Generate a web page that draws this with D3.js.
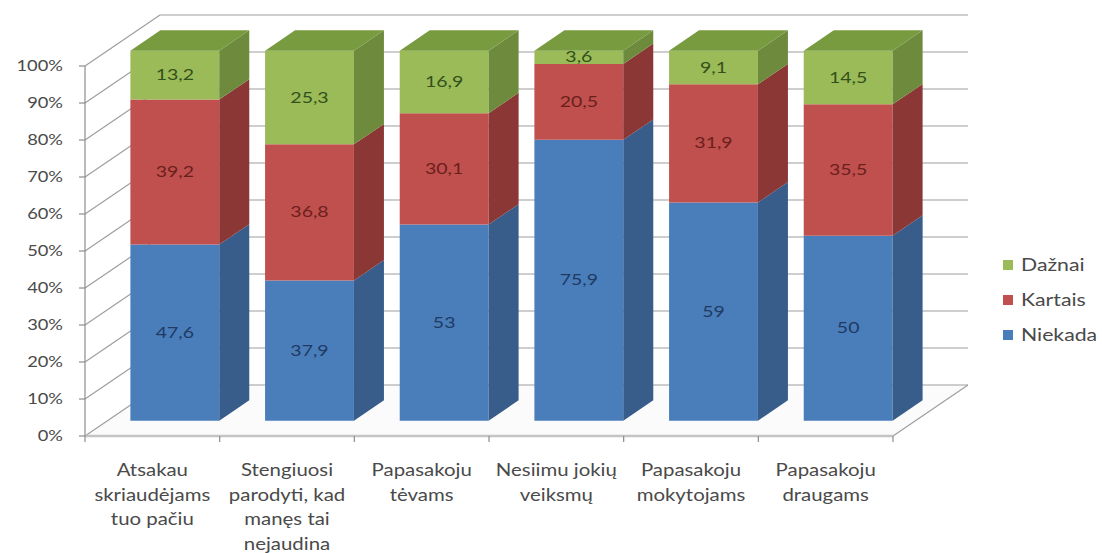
<!DOCTYPE html>
<html>
<head>
<meta charset="utf-8">
<script src="https://cdn.jsdelivr.net/npm/d3@7"></script>
<style>
  body { margin: 0; background: #fff; }
  svg text { font-family: Lato, 'Open Sans', sans-serif; }
</style>
</head>
<body>
<div class="chart"></div>
<script>
const categories = [
  ['Atsakau', 'skriaudėjams', 'tuo pačiu'],
  ['Stengiuosi', 'parodyti, kad', 'manęs tai', 'nejaudina'],
  ['Papasakoju', 'tėvams'],
  ['Nesiimu jokių', 'veiksmų'],
  ['Papasakoju', 'mokytojams'],
  ['Papasakoju', 'draugams']
]
const seriesNames = ['Niekada', 'Kartais', 'Dažnai']
const niekada = [47.6, 37.9, 53, 75.9, 59, 50]
const kartais = [39.2, 36.8, 30.1, 20.5, 31.9, 35.5]
const daznai = [13.2, 25.3, 16.9, 3.6, 9.1, 14.5]
const yTicks = [0, 10, 20, 30, 40, 50, 60, 70, 80, 90, 100]

const width = 1102
const height = 553
const depthX = 75
const depthY = -51
const barNear = 0.3
const barFar = 0.7

const colors = {
  Niekada: { front: '#4a7ebb', side: '#385d8a', top: '#5b8fc9', label: '#1f3a63' },
  Kartais: { front: '#c0504d', side: '#8a3735', top: '#d0605c', label: '#6b1f1d' },
  Dažnai: { front: '#9bbb59', side: '#6e8b3d', top: '#789b40', label: '#33511a' }
}

const values = { Niekada: niekada, Kartais: kartais, Dažnai: daznai }
const idx = d3.range(categories.length)

const x = d3.scaleBand().domain(idx).range([85, 893]).paddingInner(0.34).paddingOuter(0.17)
const y = d3.scaleLinear().domain([0, 100]).range([436, 66])

// project a point of the front plane back into the depth
const px = (xv, d) => xv + d * depthX
const py = (yv, d) => yv + d * depthY

const svg = d3.select('.chart').append('svg')
  .attr('width', width).attr('height', height)

const grid = svg.append('g')
  .attr('stroke', '#9e9e9e').attr('stroke-width', 1.2).attr('fill', 'none')

// floor
svg.insert('path', 'g')
  .attr('d', d3.line()([[px(85, 0), y(0)], [px(893, 0), y(0)], [px(893, 1), py(y(0), 1)], [px(85, 1), py(y(0), 1)]]))
  .attr('fill', '#fbfbfb')

// left wall + back wall gridlines
yTicks.forEach((t) => {
  grid.append('line')
    .attr('x1', 85).attr('y1', y(t)).attr('x2', px(85, 1)).attr('y2', py(y(t), 1))
  grid.append('line')
    .attr('x1', px(85, 1)).attr('y1', py(y(t), 1)).attr('x2', px(893, 1)).attr('y2', py(y(t), 1))
})
grid.append('line')
  .attr('x1', 893).attr('y1', y(0)).attr('x2', px(893, 1)).attr('y2', py(y(0), 1))
grid.append('line')
  .attr('x1', 85).attr('y1', y(0)).attr('x2', 893).attr('y2', y(0))
  .attr('stroke', '#c4c4c4').attr('stroke-width', 2.5)

// front y axis
const axis = svg.append('g').attr('stroke', '#8c8c8c').attr('stroke-width', 1.2)
axis.append('line').attr('x1', 85).attr('x2', 85).attr('y1', y(0)).attr('y2', y(100))
yTicks.forEach((t) => {
  axis.append('line').attr('x1', 79).attr('x2', 85).attr('y1', y(t)).attr('y2', y(t))
})
d3.range(categories.length + 1).forEach((i) => {
  const xv = i < categories.length ? x(i) - x.step() * x.paddingInner() / 2 : 893
  axis.append('line').attr('x1', xv).attr('x2', xv).attr('y1', y(0)).attr('y2', y(0) + 6)
})

svg.append('g').selectAll('text').data(yTicks).join('text')
  .attr('transform', (t) => `translate(63,${y(t) + 5}) scale(1.22,1)`)
  .attr('text-anchor', 'end')
  .attr('font-size', 15)
  .attr('fill', '#4a4a4a')
  .text((t) => t + '%')

// bars
const stack = d3.stack().keys(seriesNames)(idx.map((i) => ({
  Niekada: niekada[i], Kartais: kartais[i], Dažnai: daznai[i]
})))

const fmt = (v) => String(v).replace('.', ',')

idx.forEach((i) => {
  const g = svg.append('g')
  const x0 = px(x(i), barNear)
  const x1 = px(x(i) + x.bandwidth(), barNear)
  const dx = (barFar - barNear) * depthX
  const dy = (barFar - barNear) * depthY
  stack.forEach((layer, li) => {
    const name = layer.key
    const c = colors[name]
    const [v0, v1] = layer[i]
    const yb = py(y(v0), barNear)
    const yt = py(y(v1), barNear)
    g.append('path')
      .attr('d', d3.line()([[x0, yb], [x1, yb], [x1, yt], [x0, yt]]) + 'Z')
      .attr('fill', c.front)
    g.append('path')
      .attr('d', d3.line()([[x1, yb], [x1 + dx, yb + dy], [x1 + dx, yt + dy], [x1, yt]]) + 'Z')
      .attr('fill', c.side)
    if (li === stack.length - 1) {
      g.append('path')
        .attr('d', d3.line()([[x0, yt], [x1, yt], [x1 + dx, yt + dy], [x0 + dx, yt + dy]]) + 'Z')
        .attr('fill', c.top)
    }
    g.append('text')
      .attr('transform', `translate(${(x0 + x1) / 2},${(yb + yt) / 2 + 5}) scale(1.3,1)`)
      .attr('text-anchor', 'middle')
      .attr('font-size', 15)
      .attr('fill', c.label)
      .text(fmt(values[name][i]))
  })
})

// category labels
const cat = svg.append('g').attr('fill', '#4a4a4a').attr('font-size', 17)
idx.forEach((i) => {
  categories[i].forEach((line, k) => {
    cat.append('text')
      .attr('transform', `translate(${x(i) + x.bandwidth() / 2},${476 + k * 24.5}) scale(1.2,1)`)
      .attr('text-anchor', 'middle')
      .text(line)
  })
})

// legend
const legend = svg.append('g')
seriesNames.slice().reverse().forEach((name, k) => {
  const ly = 265 + k * 35
  legend.append('rect')
    .attr('x', 1003).attr('y', ly - 5).attr('width', 10).attr('height', 10)
    .attr('fill', colors[name].front)
  legend.append('text')
    .attr('transform', `translate(1021,${ly + 6}) scale(1.25,1)`)
    .attr('font-size', 17)
    .attr('fill', '#4a4a4a')
    .text(name)
})
</script>
</body>
</html>
